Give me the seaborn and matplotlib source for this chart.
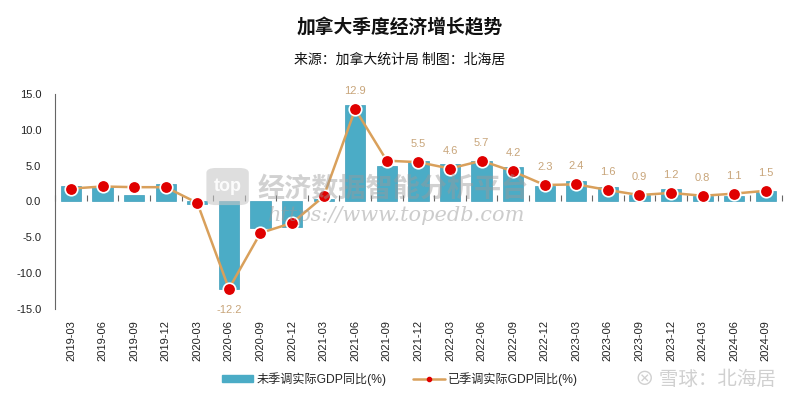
import numpy as np
import pandas as pd
import matplotlib
matplotlib.use("Agg")
import matplotlib.pyplot as plt
import seaborn as sns
from matplotlib.patches import Patch, FancyBboxPatch
from matplotlib.lines import Line2D

quarters = ["2019-03", "2019-06", "2019-09", "2019-12", "2020-03", "2020-06",
            "2020-09", "2020-12", "2021-03", "2021-06", "2021-09", "2021-12",
            "2022-03", "2022-06", "2022-09", "2022-12", "2023-03", "2023-06",
            "2023-09", "2023-12", "2024-03", "2024-06", "2024-09"]
unadjusted = [2.2, 2.0, 0.9, 2.5, -0.3, -12.2, -3.7, -3.6, 0.4, 13.5, 4.9, 5.6,
              5.3, 5.6, 4.8, 2.2, 2.8, 2.0, 0.9, 1.7, 0.7, 0.7, 1.4]
adjusted = [1.8, 2.1, 2.0, 2.0, -0.2, -12.2, -4.4, -3.0, 0.7, 12.9, 5.7, 5.5,
            4.6, 5.7, 4.2, 2.3, 2.4, 1.6, 0.9, 1.2, 0.8, 1.1, 1.5]
labeled = ["2020-06", "2021-06", "2021-12", "2022-03", "2022-06", "2022-09",
           "2022-12", "2023-03", "2023-06", "2023-09", "2023-12", "2024-03",
           "2024-06", "2024-09"]
yticks = [15.0, 10.0, 5.0, 0.0, -5.0, -10.0, -15.0]

title = "加拿大季度经济增长趋势"
subtitle = "来源：加拿大统计局 制图：北海居"
bar_name = "未季调实际GDP同比(%)"
line_name = "已季调实际GDP同比(%)"

sns.set_theme(style="white")
plt.rcParams["font.family"] = ["Liberation Sans", "Noto Sans CJK SC", "DejaVu Sans"]

BLUE = "#4bacc6"
TAN = "#d9a05b"
RED = "#e00000"
LABEL = "#c8a57a"

df = pd.DataFrame({"quarter": quarters, "unadj": unadjusted, "adj": adjusted})

fig = plt.figure(figsize=(8, 3.99), dpi=100)
ax = fig.add_axes([0.069, 0.226, 0.908, 0.538])

sns.barplot(data=df, x="quarter", y="unadj", color=BLUE, width=0.64,
            saturation=1, edgecolor="#3f9dbb", linewidth=0.5, ax=ax, zorder=2)
xpos = np.arange(len(quarters))
sns.lineplot(x=xpos, y=df["adj"].values, color=TAN, linewidth=1.8, marker="o",
             markersize=9, markerfacecolor=RED, markeredgecolor="white",
             markeredgewidth=1.2, ax=ax, zorder=4)

for q, v in zip(quarters, adjusted):
    if q in labeled:
        i = quarters.index(q)
        off = -15 if v < 0 else 13
        ax.annotate(f"{v:.1f}", (i, v), xytext=(0, off), textcoords="offset points",
                    ha="center", va="center", fontsize=8, color=LABEL, zorder=5)

ax.set_xlim(-0.5, len(quarters) - 0.5)
ax.set_ylim(-15, 15)
ax.set_yticks(yticks)
ax.set_yticklabels([f"{t:.1f}" for t in yticks])
ax.set_xlabel("")
ax.set_ylabel("")
ax.tick_params(axis="x", length=0, labelsize=8, rotation=90, pad=8, colors="#222222")
ax.tick_params(axis="y", length=0, labelsize=8, pad=10, colors="#222222")
for s in ["top", "right", "bottom"]:
    ax.spines[s].set_visible(False)
ax.spines["left"].set_color("#666666")
ax.spines["left"].set_linewidth(0.8)

sec = ax.secondary_xaxis(0.5)
sec.set_xticks(np.arange(-0.5, len(quarters), 1.0))
sec.set_xticklabels([])
sec.tick_params(axis="x", direction="out", length=4, color="#666666", width=0.8)
sec.spines["bottom"].set_color("#666666")
sec.spines["bottom"].set_linewidth(0.8)
sec.spines["top"].set_visible(False)

# watermarks
logo = FancyBboxPatch((0.262, 0.49), 0.045, 0.085, boxstyle="round,pad=0.004,rounding_size=0.012",
                      transform=fig.transFigure, facecolor="#c8c8c8", edgecolor="none",
                      alpha=0.6, zorder=10)
fig.patches.append(logo)
fig.text(0.2845, 0.532, "top", fontsize=13, fontweight="bold", color="white",
         ha="center", va="center", alpha=0.9, zorder=11)
fig.text(0.322, 0.525, "经济数据智能分析平台", fontsize=19.5, fontweight="bold",
         color="#9a9a9a", alpha=0.45, ha="left", va="center",
         family=["Noto Sans CJK SC"], zorder=10)
fig.text(0.335, 0.46, "https://www.topedb.com", fontsize=15, style="italic",
         color="#9a9a9a", alpha=0.5, ha="left", va="center",
         family=["DejaVu Serif"], zorder=10)
fig.text(0.97, 0.05, "⊗ 雪球：北海居", fontsize=14, color="#d0d0d0",
         ha="right", va="center", family=["Noto Sans CJK SC", "DejaVu Sans"])

fig.text(0.5, 0.93, title, fontsize=13.5, fontweight="bold", ha="center", va="center",
         color="#111111", family=["Noto Sans CJK SC"])
fig.text(0.5, 0.85, subtitle, fontsize=10, ha="center", va="center",
         color="#111111", family=["Noto Sans CJK SC"])

handles = [Patch(facecolor=BLUE, edgecolor=BLUE),
           Line2D([], [], color=TAN, linewidth=1.8, marker="o", markersize=3,
                  markerfacecolor=RED, markeredgecolor=RED)]
fig.legend(handles, [bar_name, line_name], loc="center", bbox_to_anchor=(0.5, 0.05),
           ncol=2, frameon=False, prop={"family": ["Liberation Sans", "Noto Sans CJK SC"], "size": 8.7},
           handlelength=2.6, handleheight=0.6, columnspacing=2.2, handletextpad=0.3)

fig.savefig("out.png", dpi=100, facecolor="white")
